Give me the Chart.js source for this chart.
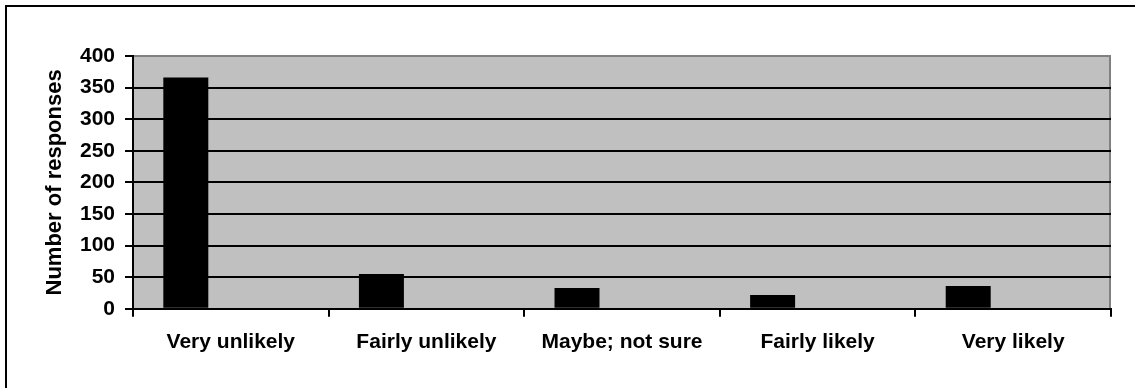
<!DOCTYPE html>
<html>
<head>
<meta charset="utf-8">
<script src="https://cdn.jsdelivr.net/npm/chart.js@4/dist/chart.umd.min.js"></script>
<style>
	html, body { margin: 0; padding: 0; background: #ffffff; }
	#wrap { width: 1135px; height: 388px; position: relative; }
</style>
</head>
<body>
<div id="wrap"><canvas id="myChart"></canvas></div>
<script>
const categories = ['Very unlikely', 'Fairly unlikely', 'Maybe; not sure', 'Fairly likely', 'Very likely']
const responses  = [366, 55, 33, 22, 36]

const yTicks = { min: 0, max: 400, step: 50 }

const fontName  = "'Liberation Sans', Arial, sans-serif"
const plotColor = '#c0c0c0'
const edgeColor = '#808080'

/* grey plot area, grey top/right edge, frame line round the whole thing */
const plotFrame = {
	id: 'plotFrame',
	beforeDraw(chart) {
		const { ctx, chartArea: a } = chart
		ctx.save()
		ctx.fillStyle = plotColor
		ctx.fillRect(a.left, a.top, a.right - a.left, a.bottom - a.top)
		ctx.strokeStyle = edgeColor
		ctx.lineWidth = 2
		ctx.beginPath()
		ctx.moveTo(a.left, a.top)
		ctx.lineTo(a.right - 1, a.top)
		ctx.lineTo(a.right - 1, a.bottom)
		ctx.stroke()

		ctx.strokeStyle = '#000'
		ctx.beginPath()
		ctx.moveTo(6, chart.height)
		ctx.lineTo(6, 6)
		ctx.lineTo(chart.width, 6)
		ctx.stroke()
		ctx.restore()
	}
}

const ctx = document.getElementById('myChart').getContext('2d')
const chart = new Chart(ctx, {
	type: 'bar',
	data: {
		labels: categories,
		datasets: [
			{ label: 'Responses', data: responses, backgroundColor: '#000', borderWidth: 0 },
			{ label: '', data: [], backgroundColor: '#000' },
			{ label: '', data: [], backgroundColor: '#000' }
		]
	},
	options: {
		responsive: true,
		maintainAspectRatio: false,
		animation: false,
		categoryPercentage: 0.69,
		barPercentage: 1,
		layout: {
			padding: { left: 40, top: 56, right: 24, bottom: 20 }
		},
		scales: {
			x: {
				grid: {
					offset: true,
					drawOnChartArea: false,
					tickLength: 8,
					tickColor: '#000',
					lineWidth: 2
				},
				border: { color: '#000', width: 2 },
				ticks: {
					color: '#000',
					padding: 13,
					maxRotation: 0,
					font: { family: fontName, size: 21, weight: 'bold' }
				}
			},
			y: {
				min: yTicks.min,
				max: yTicks.max,
				afterFit: (scale) => { scale.width = 93 },
				grid: {
					color: (c) => c.tick && c.tick.value === yTicks.max ? edgeColor : '#000',
					tickColor: '#000',
					lineWidth: 2,
					tickLength: 8
				},
				border: { color: '#000', width: 2 },
				ticks: {
					stepSize: yTicks.step,
					color: '#000',
					padding: 10,
					font: { family: fontName, size: 21, weight: 'bold' }
				},
				title: {
					display: true,
					text: 'Number of responses',
					color: '#000',
					padding: { top: 2, bottom: 0 },
					font: { family: fontName, size: 22, weight: 'bold' }
				}
			}
		},
		plugins: {
			legend: { display: false },
			tooltip: { enabled: false }
		}
	},
	plugins: [plotFrame]
})
</script>
</body>
</html>
